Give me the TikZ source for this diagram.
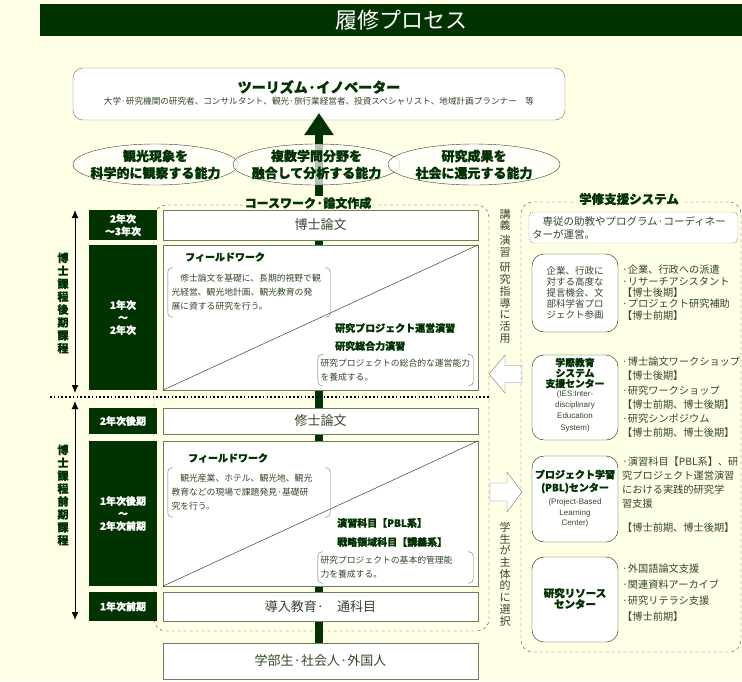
\documentclass[tikz,border=0pt]{standalone}
\usepackage{fontspec}
\setmainfont{Noto Sans CJK JP}[BoldFeatures={FakeBold=1.2}]
\newfontfamily\latinfont{Liberation Sans}
\usetikzlibrary{shapes.geometric,arrows.meta}

\definecolor{paper}{RGB}{255,255,230}
\definecolor{forest}{RGB}{0,51,0}
\definecolor{ink}{RGB}{52,72,42}
\definecolor{rim}{RGB}{110,124,96}

\tikzset{
  yearbox/.style={fill=forest,text=white,inner sep=0pt,minimum width=68pt,align=center,
    font=\bfseries\fontsize{10}{12.5}\selectfont},
  stagebox/.style={draw=rim,fill=white,inner sep=0pt,minimum width=315pt,text=ink,
    font=\fontsize{13}{15}\selectfont},
  ability/.style={ellipse,draw=ink,fill=white,fill opacity=0.7,inner sep=0pt,minimum height=41pt},
  abilitytext/.style={align=center,inner sep=0pt,text=forest,font=\bfseries\fontsize{13}{17}\selectfont},
  subhead/.style={anchor=west,inner sep=0pt,text=forest,font=\bfseries\fontsize{10}{12}\selectfont},
  note/.style={inner sep=0pt,align=left,text=ink,font=\fontsize{8.8}{14}\selectfont},
  unitbox/.style={draw=forest,fill=white,rounded corners=12pt,inner sep=0pt,minimum width=86pt,
    align=center,text=ink,font=\fontsize{9.5}{11}\selectfont},
  unithead/.style={align=center,inner sep=0pt,text=forest,font=\bfseries\fontsize{9.8}{10.5}\selectfont},
  unitsub/.style={align=center,inner sep=0pt,text=ink,font=\latinfont\fontsize{8}{11.3}\selectfont},
  bullets/.style={anchor=west,inner sep=0pt,align=left,text=ink},
  vlabel/.style={align=center,inner sep=0pt,text=forest,font=\bfseries\fontsize{11}{12.9}\selectfont},
  vnote/.style={align=center,inner sep=0pt,text=ink,font=\fontsize{11}{11.7}\selectfont},
  fatarrow/.style={draw=rim,fill=white,line join=miter},
}

\begin{document}
\begin{tikzpicture}[x=1pt,y=-1pt]
  \fill[paper] (0,0) rectangle (742,681);
  \useasboundingbox (0,0) rectangle (742,681);

  % title bar
  \node[fill=forest,minimum width=702pt,minimum height=32pt,inner sep=0pt] (banner) at (391,20) {};
  \node[text=white,inner sep=0pt,font=\fontsize{22}{24}\selectfont] (bannertitle) at (401,20) {履修プロセス};

  % goal
  \node[draw=rim,fill=white,rounded corners=10pt,minimum width=492pt,minimum height=52pt,inner sep=0pt] (innov) at (319,94) {};
  \node[inner sep=0pt,text=forest,font=\bfseries\fontsize{14}{16}\selectfont] (innovtitle) at (319,87) {ツーリズム·イノベーター};
  \node[inner sep=0pt,text=ink,font=\fontsize{8.6}{10}\selectfont] (innovsub) at (319,101)
    {大学·研究機関の研究者、コンサルタント、観光·旅行業経営者、投資スペシャリスト、地域計画プランナー　等};

  % growth arrow
  \coordinate (shaftBot) at (319,643);
  \coordinate (shaftTop) at (319,113);
  \draw[forest,line width=8pt,-{Triangle[width=28pt,length=22pt]}] (shaftBot) -- (shaftTop);

  % abilities
  \node[ability,minimum width=165pt] (abil1) at (155.5,164.5) {};
  \node[ability,minimum width=167pt] (abil2) at (316.5,164.5) {};
  \node[ability,minimum width=172pt] (abil3) at (474,164.5) {};
  \node[abilitytext] (abil1txt) at (abil1) {観光現象を\\科学的に観察する能力};
  \node[abilitytext] (abil2txt) at (abil2) {複数学問分野を\\融合して分析する能力};
  \node[abilitytext] (abil3txt) at (abil3) {研究成果を\\社会に還元する能力};

  % coursework frame
  \node[draw=ink,dashed,rounded corners=12pt,minimum width=335pt,minimum height=426pt,inner sep=0pt] (course) at (321.5,418) {};
  \node[fill=paper,inner xsep=2pt,inner ysep=1pt,text=forest,font=\bfseries\fontsize{12}{14}\selectfont] (coursetitle) at (308,203) {コースワーク·論文作成};

  % stages
  \node[stagebox,minimum height=30pt] (phd) at (320.5,225) {博士論文};
  \node[stagebox,minimum height=145pt] (dwork) at (320.5,317.5) {};
  \node[stagebox,minimum height=26pt] (msc) at (320.5,421) {修士論文};
  \node[stagebox,minimum height=145pt] (mwork) at (320.5,513.5) {};
  \node[stagebox,minimum height=29pt] (intro) at (320.5,606.5) {導入教育·　通科目};
  \node[stagebox,minimum height=36pt] (entry) at (320.5,661) {学部生·社会人·外国人};
  \draw[ink,line width=0.5pt] (dwork.south west) -- (dwork.north east);
  \draw[ink,line width=0.5pt] (mwork.south west) -- (mwork.north east);

  % years
  \node[yearbox,minimum height=30pt] (yrD3) at (123,225) {2年次\\〜3年次};
  \node[yearbox,minimum height=145pt] (yrD1) at (123,317.5) {1年次\\〜\\2年次};
  \node[yearbox,minimum height=26pt] (yrM2) at (123,421) {2年次後期};
  \node[yearbox,minimum height=145pt] (yrM1) at (123,513.5) {1年次後期\\〜\\2年次前期};
  \node[yearbox,minimum height=29pt] (yrM0) at (123,606.5) {1年次前期};

  % doctoral work
  \node[subhead] (fwD) at (185,257) {フィールドワーク};
  \node[note,minimum width=162pt,minimum height=49pt,text width=155pt] (noteD1) at (249,292.5)
    {　修士論文を基礎に、長期的視野で観\\光経営、観光地計画、観光教育の発\\展に資する研究を行う。};
  \node[subhead] (rpD) at (335,328) {研究プロジェクト運営演習};
  \node[subhead] (rsD) at (335,346) {研究総合力演習};
  \node[note,minimum width=155pt,minimum height=31pt,text width=150pt] (noteD2) at (395.5,370)
    {研究プロジェクトの総合的な運営能力\\を養成する。};

  % master work
  \node[subhead] (fwM) at (188,458) {フィールドワーク};
  \node[note,minimum width=162pt,minimum height=49pt,text width=155pt] (noteM1) at (249,492.5)
    {　観光産業、ホテル、観光地、観光\\教育などの現場で課題発見·基礎研\\究を行う。};
  \node[subhead] (pblM) at (337,523) {演習科目【PBL系】};
  \node[subhead] (lecM) at (337,542) {戦略領域科目【講義系】};
  \node[note,minimum width=155pt,minimum height=31pt,text width=150pt] (noteM2) at (395.5,567.5)
    {研究プロジェクトの基本的管理能\\力を養成する。};

  \foreach \n in {noteD1,noteD2,noteM1,noteM2} {
    \draw[rim,rounded corners=4pt] ([xshift=5pt]\n.north west) -- (\n.north west) -- (\n.south west) -- ([xshift=5pt]\n.south west);
    \draw[rim,rounded corners=4pt] ([xshift=-5pt]\n.north east) -- (\n.north east) -- (\n.south east) -- ([xshift=-5pt]\n.south east);
  }

  % course ranges
  \coordinate (sepL) at (50,397);
  \coordinate (sepR) at (490,397);
  \draw[black,line width=1.6pt,dash pattern=on 1.6pt off 2.2pt] (sepL) -- (sepR);
  \coordinate (dTop) at (75,210);
  \coordinate (dBot) at (75,393);
  \coordinate (mTop) at (75,401);
  \coordinate (mBot) at (75,620);
  \draw[line width=1pt,{Latex[length=8pt,width=7pt]}-{Latex[length=8pt,width=7pt]}] (dTop) -- (dBot);
  \draw[line width=1pt,{Latex[length=8pt,width=7pt]}-{Latex[length=8pt,width=7pt]}] (mTop) -- (mBot);
  \node[vlabel] (dlabel) at (63,303) {博\\士\\課\\程\\後\\期\\課\\程};
  \node[vlabel] (mlabel) at (63,495) {博\\士\\課\\程\\前\\期\\課\\程};

  % column notes
  \node[vnote] (useNote) at (505,276) {講\\義\\[3pt]演\\習\\[4pt]研\\究\\指\\導\\に\\活\\用};
  \node[vnote] (chooseNote) at (505,574) {学\\生\\が\\主\\体\\的\\に\\選\\択};
  \draw[fatarrow] (522,365.5) -- (505,365.5) -- (505,355) -- (489,374) -- (505,393) -- (505,382.5) -- (522,382.5) -- cycle;
  \draw[fatarrow] (490,483) -- (507,483) -- (507,472) -- (522,492) -- (507,512) -- (507,501) -- (490,501) -- cycle;

  % support system
  \node[draw=ink,dashed,rounded corners=12pt,minimum width=220pt,minimum height=450pt,inner sep=0pt] (support) at (631,427) {};
  \node[fill=paper,inner xsep=6pt,inner ysep=1pt,text=forest,font=\bfseries\fontsize{12.5}{14}\selectfont] (supporttitle) at (629,199) {学修支援システム};
  \node[draw=rim,dash pattern=on 1.2pt off 1pt,rounded corners=5pt,fill=white,minimum width=209pt,minimum height=31pt,
    inner sep=0pt,text width=203pt,align=left,text=ink,font=\fontsize{10.5}{13}\selectfont] (staff) at (633.5,227.5)
    {　専従の助教やプログラム·コーディネー\\ターが運営。};

  \node[unitbox,minimum height=78pt] (corp) at (575,293) {企業、行政に\\対する高度な\\提言機会、文\\部科学省プロ\\ジェクト参画};
  \node[unitbox,minimum height=85pt] (ies) at (575,397.5) {};
  \node[unithead] (iesname) at (575,373) {学際教育\\システム\\支援センター};
  \node[unitsub] (iesen) at (575,411) {(IES:Inter-\\disciplinary\\Education\\System)};
  \node[unitbox,minimum height=86pt] (pbl) at (575,499) {};
  \node[unithead,font=\bfseries\fontsize{10}{13}\selectfont] (pblname) at (575,481.5) {プロジェクト学習\\(PBL)センター};
  \node[unitsub,font=\latinfont\fontsize{8}{10.5}\selectfont] (pblen) at (575,513) {(Project-Based\\Learning\\Center)};
  \node[unitbox,minimum height=85pt] (res) at (575,599.5) {};
  \node[unithead,font=\bfseries\fontsize{10.5}{11}\selectfont] (resname) at (575,598.5) {研究リソース\\センター};

  \node[bullets,font=\fontsize{10.2}{11.3}\selectfont] (corpList) at (622,292.6)
    {·企業、行政への派遣\\·リサーチアシスタント\\【博士後期】\\·プロジェクト研究補助\\【博士前期】};
  \node[bullets,font=\fontsize{10.2}{14.2}\selectfont] (iesList) at (622,397.3)
    {·博士論文ワークショップ\\【博士後期】\\·研究ワークショップ\\【博士前期、博士後期】\\·研究シンポジウム\\【博士前期、博士後期】};
  \node[bullets,font=\fontsize{10.2}{13.7}\selectfont] (pblList) at (622,495)
    {·演習科目【PBL系】、研\\究プロジェクト運営演習\\における実践的研究学\\習支援\\[11pt]【博士前期、博士後期】};
  \node[bullets,font=\fontsize{10.2}{16.2}\selectfont] (resList) at (622,592.5)
    {·外国語論文支援\\·関連資料アーカイブ\\·研究リテラシ支援\\【博士前期】};
\end{tikzpicture}
\end{document}
